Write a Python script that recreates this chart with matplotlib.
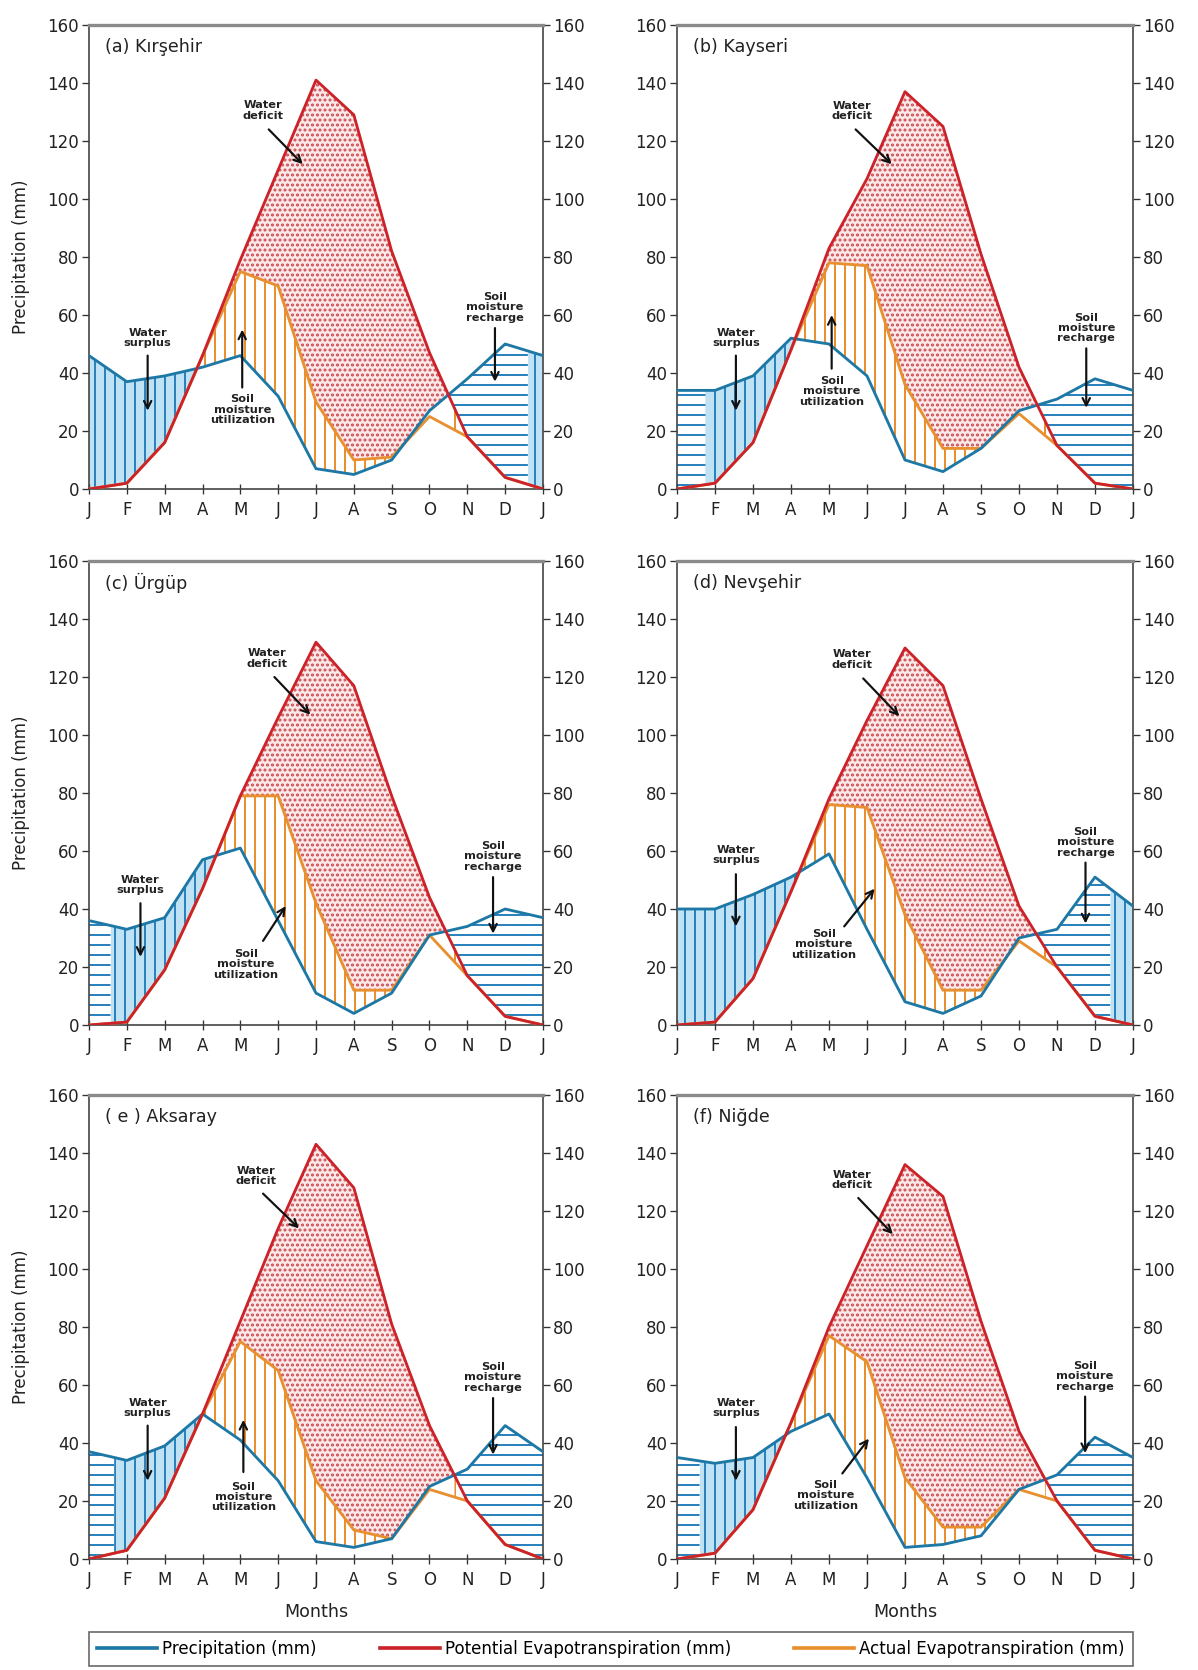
import numpy as np
import matplotlib.pyplot as plt
from matplotlib.lines import Line2D

plt.rcParams['font.family'] = ['DejaVu Sans']
plt.rcParams['hatch.linewidth'] = 1.2

# ---- data ----
months = ['J', 'F', 'M', 'A', 'M', 'J', 'J', 'A', 'S', 'O', 'N', 'D', 'J']
titles = ['(a) Kırşehir', '(b) Kayseri', '(c) Ürgüp', '(d) Nevşehir', '( e ) Aksaray', '(f) Niğde']

precip_a = [46, 37, 39, 42, 46, 32, 7, 5, 10, 27, 38, 50, 46]
pet_a = [0, 2, 16, 46, 79, 110, 141, 129, 82, 47, 18, 4, 0]
aet_a = [0, 2, 16, 46, 75, 70, 30, 10, 11, 25, 18, 4, 0]

precip_b = [34, 34, 39, 52, 50, 39, 10, 6, 14, 27, 31, 38, 34]
pet_b = [0, 2, 16, 48, 83, 107, 137, 125, 81, 42, 15, 2, 0]
aet_b = [0, 2, 16, 48, 78, 77, 36, 14, 14, 26, 15, 2, 0]

precip_c = [36, 33, 37, 57, 61, 36, 11, 4, 11, 31, 34, 40, 37]
pet_c = [0, 1, 19, 47, 79, 106, 132, 117, 79, 44, 17, 3, 0]
aet_c = [0, 1, 19, 47, 79, 79, 42, 12, 12, 31, 17, 3, 0]

precip_d = [40, 40, 45, 51, 59, 33, 8, 4, 10, 30, 33, 51, 41]
pet_d = [0, 1, 16, 46, 78, 105, 130, 117, 78, 41, 20, 3, 0]
aet_d = [0, 1, 16, 46, 76, 75, 38, 12, 12, 29, 20, 3, 0]

precip_e = [37, 34, 39, 50, 41, 27, 6, 4, 7, 25, 31, 46, 37]
pet_e = [0, 3, 21, 50, 82, 114, 143, 128, 81, 46, 20, 5, 0]
aet_e = [0, 3, 21, 50, 75, 65, 27, 10, 7, 24, 20, 5, 0]

precip_f = [35, 33, 35, 44, 50, 28, 4, 5, 8, 24, 29, 42, 35]
pet_f = [0, 2, 17, 47, 80, 108, 136, 125, 82, 44, 20, 3, 0]
aet_f = [0, 2, 17, 47, 77, 68, 28, 11, 11, 24, 20, 3, 0]

# month position (wrapping past Dec) where soil moisture recharge ends
recharge_end = [11.6, 12.75, 12.57, 11.4, 12.66, 12.6]

precip = [precip_a, precip_b, precip_c, precip_d, precip_e, precip_f]
pet = [pet_a, pet_b, pet_c, pet_d, pet_e, pet_f]
aet = [aet_a, aet_b, aet_c, aet_d, aet_e, aet_f]

# ---- annotation layout: (text centre, arrow tail, arrow head) ----
notes = [
    {'deficit': ((4.6, 130.5), (4.75, 124), (5.65, 112)),
     'surplus': ((1.55, 52), (1.55, 46), (1.55, 27)),
     'util': ((4.05, 27.4), (4.05, 35), (4.05, 55)),
     'recharge': ((10.73, 62.7), (10.73, 55.5), (10.73, 37))},
    {'deficit': ((4.6, 130.4), (4.7, 124), (5.65, 112)),
     'surplus': ((1.55, 52), (1.55, 46), (1.55, 27)),
     'util': ((4.07, 33.7), (4.07, 41.5), (4.07, 60)),
     'recharge': ((10.77, 55.5), (10.77, 48.5), (10.77, 28))},
    {'deficit': ((4.7, 126.4), (4.9, 120), (5.85, 107)),
     'surplus': ((1.36, 48.3), (1.36, 42), (1.36, 23.5)),
     'util': ((4.14, 21), (4.6, 29), (5.2, 41)),
     'recharge': ((10.68, 58.2), (10.68, 51), (10.68, 31.5))},
    {'deficit': ((4.6, 126), (4.9, 119.5), (5.85, 106.5)),
     'surplus': ((1.55, 58.6), (1.55, 52), (1.55, 34)),
     'util': ((3.86, 27.8), (4.4, 34), (5.2, 47)),
     'recharge': ((10.75, 63), (10.75, 56), (10.75, 35))},
    {'deficit': ((4.42, 132), (4.6, 126), (5.55, 114)),
     'surplus': ((1.55, 52), (1.55, 46), (1.55, 27)),
     'util': ((4.08, 21.4), (4.08, 30), (4.08, 48)),
     'recharge': ((10.68, 62.7), (10.68, 55.5), (10.68, 36))},
    {'deficit': ((4.6, 130.6), (4.77, 124.5), (5.68, 112)),
     'surplus': ((1.55, 52), (1.55, 45.5), (1.55, 27)),
     'util': ((3.9, 22), (4.35, 29.5), (5.05, 41.5)),
     'recharge': ((10.74, 63), (10.74, 56), (10.74, 36.5))},
]
note_text = {'deficit': 'Water\ndeficit', 'surplus': 'Water\nsurplus',
             'util': 'Soil\nmoisture\nutilization', 'recharge': 'Soil\nmoisture\nrecharge'}

# ---- colours ----
c_blue = '#1d78a6'
c_red = '#cc2229'
c_orange = '#e8902f'
c_surplus = '#bfe3f5'
c_hatch_blue = '#2b82bd'
c_deficit = '#fbe9e9'
c_dots = '#cf4a4f'

fig = plt.figure(figsize=(1198 / 120, 1670 / 120), dpi=120)

col_left = [89 / 1198, 677 / 1198]
col_width = [454 / 1198, 456 / 1198]
row_bottom = [1 - 489 / 1670, 1 - 1025 / 1670, 1 - 1559 / 1670]
row_height = 464 / 1670

x = np.arange(13)
xf = np.linspace(0, 12, 2401)

for k in range(6):
    r, c = divmod(k, 2)
    ax = fig.add_axes([col_left[c], row_bottom[r], col_width[c], row_height])

    p = np.interp(xf, x, precip[k])
    e = np.interp(xf, x, pet[k])
    a = np.interp(xf, x, aet[k])
    rend = recharge_end[k]

    wet = p > e
    rech = wet & (((xf >= 8) & (xf <= rend)) | (xf <= rend - 12))
    surp = wet & ~rech
    ax.fill_between(xf, e, p, where=surp, facecolor=c_surplus, edgecolor=c_hatch_blue,
                    hatch='||', lw=0, zorder=1)
    ax.fill_between(xf, e, p, where=rech, facecolor='white', edgecolor=c_hatch_blue,
                    hatch='--', lw=0, zorder=1)
    top = np.maximum(p, a)
    ax.fill_between(xf, top, e, where=e > top, facecolor=c_deficit, edgecolor=c_dots,
                    hatch='....', lw=0, zorder=1)
    ax.fill_between(xf, p, a, where=a > p, facecolor='white', edgecolor=c_orange,
                    hatch='||', lw=0, zorder=1)
    ax.fill_between(xf, a, e, where=(p > e) & (e > a), facecolor='white', edgecolor=c_orange,
                    hatch='||', lw=0, zorder=1)

    ax.plot(x, aet[k], color=c_orange, lw=1.7, zorder=3)
    ax.plot(x, precip[k], color=c_blue, lw=1.7, zorder=4)
    ax.plot(x, pet[k], color=c_red, lw=1.7, zorder=5)

    for key, (tpos, tail, head) in notes[k].items():
        ax.text(tpos[0], tpos[1], note_text[key], ha='center', va='center', fontsize=6.8,
                fontweight='bold', linespacing=1.05, color='#222', zorder=7)
        ax.annotate('', xy=head, xytext=tail,
                    arrowprops=dict(arrowstyle='->', color='#111', lw=1.3,
                                    mutation_scale=11, shrinkA=0, shrinkB=0), zorder=7)

    ax.text(0.035, 0.952, titles[k], transform=ax.transAxes, ha='left', va='center',
            fontsize=10.5, color='#222')

    ax.set_xlim(0, 12)
    ax.set_ylim(0, 160)
    ax.set_xticks(x)
    ax.set_xticklabels(months)
    ax.set_yticks(np.arange(0, 161, 20))
    ax.tick_params(axis='y', left=True, right=True, labelleft=True, labelright=True,
                   direction='out', length=4, width=0.8, labelsize=10, pad=2,
                   colors='#333', labelcolor='#222')
    ax.tick_params(axis='x', direction='inout', length=6, width=0.8, labelsize=10,
                   pad=4, colors='#333', labelcolor='#222')
    for s in ['left', 'right', 'bottom']:
        ax.spines[s].set_color('#444')
        ax.spines[s].set_linewidth(1.0)
    ax.spines['top'].set_color('#8a8a8a')
    ax.spines['top'].set_linewidth(2.0)

    if c == 0:
        ax.set_ylabel('Precipitation (mm)', fontsize=10, color='#222')
        ax.yaxis.set_label_coords(-0.13, 0.5)

fig.text(316 / 1198, 1 - 1612 / 1670, 'Months', ha='center', va='center', fontsize=10.5, color='#222')
fig.text(905 / 1198, 1 - 1612 / 1670, 'Months', ha='center', va='center', fontsize=10.5, color='#222')

handles = [Line2D([], [], color=c_blue, lw=2.2),
           Line2D([], [], color=c_red, lw=2.2),
           Line2D([], [], color=c_orange, lw=2.2)]
labels = ['Precipitation (mm)', 'Potential Evapotranspiration (mm)', 'Actual Evapotranspiration (mm)']
leg = fig.legend(handles, labels, loc='center', ncol=3, mode='expand',
                 bbox_to_anchor=(89 / 1198, 1 / 1670, 1044 / 1198, 40 / 1670),
                 frameon=True, fancybox=False, edgecolor='#444', fontsize=10,
                 handlelength=3.6, handletextpad=0.3, borderaxespad=0, borderpad=0.5)
leg.get_frame().set_linewidth(1.0)

fig.savefig('out.png', dpi=120)
